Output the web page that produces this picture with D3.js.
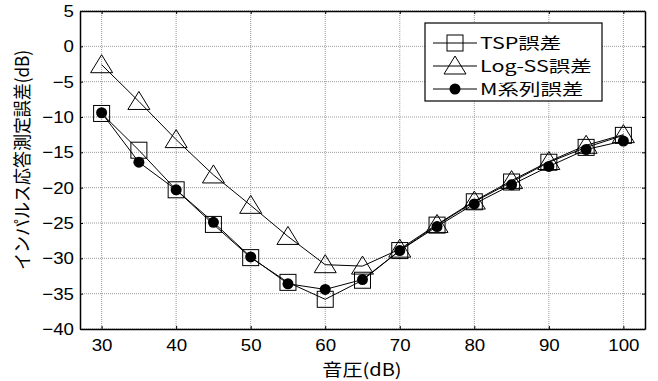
<!DOCTYPE html>
<html>
<head>
<meta charset="utf-8">
<script src="https://cdn.jsdelivr.net/npm/d3@7"></script>
<style>
  body { margin: 0; background: #fff; }
  text { fill: #000; }
</style>
</head>
<body>
<svg id="chart" width="658" height="381"></svg>
<script>
/* data */
const levels = [30, 35, 40, 45, 50, 55, 60, 65, 70, 75, 80, 85, 90, 95, 100];
const tspErr = [-9.5, -14.7, -20.3, -25.2, -29.9, -33.4, -35.8, -33.1, -28.9, -25.3, -22.0, -19.2, -16.4, -14.3, -12.6];
const logssErr = [-2.6, -7.8, -13.2, -18.2, -22.5, -26.9, -30.9, -31.1, -28.7, -25.2, -21.9, -19.0, -16.3, -14.0, -12.5];
const mseqErr = [-9.4, -16.4, -20.3, -24.9, -29.8, -33.6, -34.4, -33.0, -28.9, -25.5, -22.3, -19.6, -17.0, -14.6, -13.4];
const xTicks = [30, 40, 50, 60, 70, 80, 90, 100];
const yTicks = [5, 0, -5, -10, -15, -20, -25, -30, -35, -40];
const seriesNames = ["TSP誤差", "Log-SS誤差", "M系列誤差"];

const svg = d3.select('#chart');
const plotL = 80, plotR = 645, plotT = 11, plotB = 329;
const jpFont = '"Noto Sans CJK JP", "Noto Sans", sans-serif';
const numFont = '"Liberation Sans", Arial, sans-serif';

const x = d3.scaleLinear().domain([27.1, 102.9]).range([plotL, plotR]);
const y = d3.scaleLinear().domain([-40, 5]).range([plotB, plotT]);

// the source picture is a bit wider than tall, so text is stretched sideways
function stretch(sel, k) {
  sel.each(function () {
    const w = this.getComputedTextLength();
    d3.select(this).attr('textLength', w * k).attr('lengthAdjust', 'spacingAndGlyphs');
  });
}

/* grid */
const grid = svg.append('g');
grid.selectAll('line.gx')
  .data(xTicks)
  .enter().append('line')
  .attr('x1', d => x(d)).attr('x2', d => x(d))
  .attr('y1', plotT).attr('y2', plotB)
  .attr('stroke', '#9a9a9a').attr('stroke-width', 1)
  .attr('stroke-dasharray', '1,1');
grid.selectAll('line.gy')
  .data(yTicks)
  .enter().append('line')
  .attr('x1', plotL).attr('x2', plotR)
  .attr('y1', d => y(d)).attr('y2', d => y(d))
  .attr('stroke', '#9a9a9a').attr('stroke-width', 1)
  .attr('stroke-dasharray', '1,1');

/* axes, ticks pointing inward */
const xAxis = svg.append('g')
  .attr('transform', `translate(0,${plotB})`)
  .call(d3.axisBottom(x).tickValues(xTicks).tickSizeInner(-3).tickSizeOuter(0).tickPadding(10));
const yAxis = svg.append('g')
  .attr('transform', `translate(${plotL},0)`)
  .call(d3.axisLeft(y).tickValues(yTicks).tickSizeInner(-3).tickSizeOuter(0).tickPadding(6)
    .tickFormat(d => d < 0 ? '\u2212' + Math.abs(d) : d));
svg.append('g')
  .attr('transform', `translate(0,${plotT})`)
  .call(d3.axisTop(x).tickValues(xTicks).tickSizeInner(-3).tickSizeOuter(0).tickFormat(''));
svg.append('g')
  .attr('transform', `translate(${plotR},0)`)
  .call(d3.axisRight(y).tickValues(yTicks).tickSizeInner(-3).tickSizeOuter(0).tickFormat(''));

svg.selectAll('.domain').attr('stroke', '#000').attr('stroke-width', 1.5);
svg.selectAll('.tick line').attr('stroke', '#000');
[xAxis, yAxis].forEach(ax => {
  ax.attr('font-family', null).attr('font-size', null);
  ax.selectAll('text')
    .attr('font-family', numFont)
    .attr('font-size', 17)
    .attr('fill', '#000')
    .call(stretch, 1.1);
});

/* axis titles */
svg.append('text')
  .attr('x', 362).attr('y', 376)
  .attr('text-anchor', 'middle')
  .attr('font-family', jpFont)
  .attr('font-size', 17)
  .text('音圧(dB)')
  .call(stretch, 1.18);
svg.append('text')
  .attr('transform', 'translate(29,160) scale(1.1,1) rotate(-90)')
  .attr('text-anchor', 'middle')
  .attr('font-family', jpFont)
  .attr('font-size', 17)
  .text('インパルス応答測定誤差(dB)');

/* series */
const line = d3.line().x((d, i) => x(levels[i])).y(d => y(d));
const plot = svg.append('g');

function drawSeries(values, marker) {
  plot.append('path')
    .datum(values)
    .attr('d', line)
    .attr('fill', 'none')
    .attr('stroke', '#000')
    .attr('stroke-width', 1);
  const g = plot.append('g');
  values.forEach((v, i) => marker(g, x(levels[i]), y(v)));
}

function square(g, cx, cy) {
  g.append('rect')
    .attr('x', cx - 8).attr('y', cy - 8)
    .attr('width', 16).attr('height', 16)
    .attr('fill', 'none').attr('stroke', '#000').attr('stroke-width', 1);
}
function triangle(g, cx, cy) {
  g.append('path')
    .attr('d', `M${cx},${cy - 10}L${cx + 11},${cy + 8}L${cx - 11},${cy + 8}Z`)
    .attr('fill', 'none').attr('stroke', '#000').attr('stroke-width', 1);
}
function dot(g, cx, cy) {
  g.append('circle')
    .attr('cx', cx).attr('cy', cy).attr('r', 5.5)
    .attr('fill', '#000');
}

const markers = [square, triangle, dot];
drawSeries(tspErr, square);
drawSeries(logssErr, triangle);
drawSeries(mseqErr, dot);

/* legend */
const legend = svg.append('g');
legend.append('rect')
  .attr('x', 425).attr('y', 23)
  .attr('width', 177).attr('height', 78)
  .attr('fill', '#fff').attr('stroke', '#000').attr('stroke-width', 1.2);
seriesNames.forEach((name, i) => {
  const ly = 43 + i * 23;
  legend.append('line')
    .attr('x1', 433).attr('x2', 477)
    .attr('y1', ly).attr('y2', ly)
    .attr('stroke', '#000').attr('stroke-width', 1);
  markers[i](legend, 455, ly);
  legend.append('text')
    .attr('x', 480).attr('y', ly + 6)
    .attr('font-family', jpFont)
    .attr('font-size', 15.8)
    .text(name)
    .call(stretch, 1.36);
});
</script>
</body>
</html>
